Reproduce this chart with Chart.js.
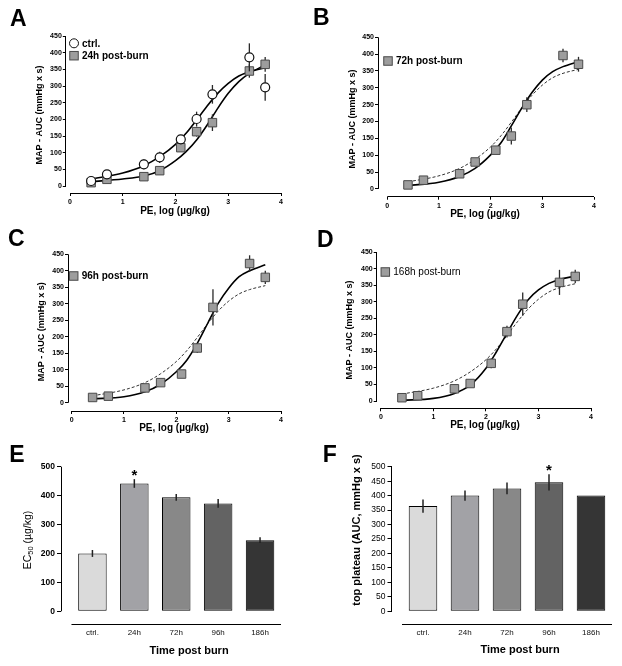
<!DOCTYPE html>
<html>
<head>
<meta charset="utf-8">
<script src="https://cdn.jsdelivr.net/npm/chart.js@4.4.1/dist/chart.umd.min.js"></script>
<style>
html, body { margin: 0; padding: 0; background: #fff; }
#fig { position: relative; width: 622px; height: 666px; overflow: hidden; }
#fig canvas { position: absolute; }
</style>
</head>
<body>
<div id="fig">
  <canvas id="cA" width="310" height="220" style="left:0;top:0"></canvas>
  <canvas id="cB" width="312" height="220" style="left:310px;top:0"></canvas>
  <canvas id="cC" width="310" height="220" style="left:0;top:220px"></canvas>
  <canvas id="cD" width="312" height="220" style="left:310px;top:220px"></canvas>
  <canvas id="cE" width="310" height="226" style="left:0;top:440px"></canvas>
  <canvas id="cF" width="312" height="226" style="left:310px;top:440px"></canvas>
</div>
<script>
// dose-response points (log dose, AUC)
const doseX = [0.4, 0.7, 1.4, 1.7, 2.1, 2.4, 2.7, 3.4, 3.7];
const ctrlY = [15, 35, 65, 86, 140, 201, 275, 386, 296];
const ctrlErr = [4, 8, 15, 17, 12, 22, 28, 42, 40];
const h24Y = [10, 20, 28, 46, 115, 163, 190, 345, 365];
const h24Err = [3, 4, 4, 5, 12, 15, 25, 20, 22];
const h72Y = [12, 26, 45, 80, 115, 157, 250, 396, 370];
const h72Err = [3, 5, 5, 6, 10, 25, 22, 20, 22];
const h96Y = [16, 20, 45, 61, 87, 166, 289, 422, 380];
const h96Err = [3, 4, 5, 5, 6, 15, 55, 25, 20];
const h168Y = [10, 16, 37, 53, 114, 210, 293, 359, 377];
const h168Err = [3, 4, 5, 6, 15, 18, 35, 38, 20];

// fitted curves
const fitX = [0.4, 1.0, 1.4, 1.7, 2.0, 2.2, 2.4, 2.6, 2.8, 3.0, 3.2, 3.4, 3.7];
const ctrlFit = [21, 39, 61, 88, 125, 158, 198, 240, 278, 308, 330, 343, 355];
const h24Fit = [13, 21, 30, 46, 76, 103, 138, 183, 233, 278, 313, 338, 363];
const h72Fit = [10, 20, 37, 61, 101, 137, 187, 239, 286, 323, 348, 363, 378];
const h96Fit = [12, 18, 33, 56, 94, 129, 180, 241, 301, 347, 382, 400, 418];
const h168Fit = [2, 8, 23, 48, 99, 149, 205, 260, 306, 336, 356, 368, 378];

const doseTicks = [0, 1, 2, 3, 4];
const aucTicks = [0, 50, 100, 150, 200, 250, 300, 350, 400, 450];

// bar panels
const timeCats = ['ctrl.', '24h', '72h', '96h', '186h'];
const ec50 = [200, 442, 394, 373, 246];
const ec50Err = [12, 15, 12, 15, 10];
const ec50Sig = [false, true, false, false, false];
const ec50Ticks = [0, 100, 200, 300, 400, 500];
const plateau = [364, 400, 425, 446, 400];
const plateauErr = [23, 18, 20, 28, 0];
const plateauSig = [false, false, false, true, false];
const plateauTicks = [0, 50, 100, 150, 200, 250, 300, 350, 400, 450, 500];
const barColors = ['#dadada', '#a2a2a6', '#888888', '#636363', '#353535'];

const FONT = "'Liberation Sans', Arial, sans-serif";
Chart.defaults.font.family = FONT;
Chart.defaults.color = '#000';

const pts = (xs, ys) => xs.map((x, i) => ({ x: x, y: ys[i] }));
const SQ_FILL = '#9d9d9d', SQ_EDGE = '#4a4a4a';

function drawErr(chart, idx, color, width) {
  const ctx = chart.ctx, ds = chart.data.datasets[idx], ys = chart.scales.y;
  ctx.save();
  ctx.strokeStyle = color;
  ctx.lineWidth = width;
  chart.getDatasetMeta(idx).data.forEach((el, i) => {
    const v = ds.data[i].y, e = ds.err[i];
    if (!e) return;
    ctx.beginPath();
    ctx.moveTo(el.x, ys.getPixelForValue(v - e));
    ctx.lineTo(el.x, ys.getPixelForValue(v + e));
    ctx.stroke();
  });
  ctx.restore();
}

function drawTitle(ctx, t, rotate) {
  ctx.save();
  ctx.translate(t.at[0], t.at[1]);
  if (rotate) ctx.rotate(-Math.PI / 2);
  ctx.textBaseline = 'middle';
  const parts = t.parts || [{ text: t.text, size: t.size }];
  let total = 0;
  parts.forEach(pt => {
    ctx.font = t.weight + ' ' + pt.size + 'px ' + FONT;
    pt.w = ctx.measureText(pt.text).width;
    total += pt.w;
  });
  let x = -total / 2;
  ctx.textAlign = 'left';
  parts.forEach(pt => {
    ctx.font = t.weight + ' ' + pt.size + 'px ' + FONT;
    ctx.fillText(pt.text, x, pt.dy || 0);
    x += pt.w;
  });
  ctx.restore();
}

function figPlugin(p) {
  return {
    id: 'fig',
    beforeDatasetDraw(chart, args) {
      const ds = chart.data.datasets[args.index];
      if (ds.err && !p.bars) drawErr(chart, args.index, '#2a2a2a', 1.3);
    },
    afterDatasetsDraw(chart) {
      if (!p.bars) return;
      const ctx = chart.ctx, ds = chart.data.datasets[0], ys = chart.scales.y;
      drawErr(chart, 0, '#222', 1.5);
      ctx.save();
      ctx.fillStyle = '#000';
      ctx.font = 'bold 15px ' + FONT;
      ctx.textAlign = 'center';
      ctx.textBaseline = 'alphabetic';
      chart.getDatasetMeta(0).data.forEach((el, i) => {
        if (!p.sig[i]) return;
        ctx.fillText('*', el.x, ys.getPixelForValue(ds.data[i].y + ds.err[i]) + 1);
      });
      ctx.restore();
    },
    afterDraw(chart) {
      const ctx = chart.ctx, a = chart.chartArea, xs = chart.scales.x, ys = chart.scales.y;
      const al = v => Math.round(v - 0.5) + 0.5;
      ctx.save();
      ctx.strokeStyle = '#000';
      ctx.lineWidth = 1;
      ctx.beginPath();
      ctx.moveTo(xs.getPixelForValue(p.xLine[0]), al(a.bottom));
      ctx.lineTo(xs.getPixelForValue(p.xLine[1]), al(a.bottom));
      ctx.moveTo(al(a.left), ys.getPixelForValue(p.yLine[0]));
      ctx.lineTo(al(a.left), ys.getPixelForValue(p.yLine[1]));
      ctx.stroke();

      ctx.fillStyle = '#000';
      ctx.textAlign = 'left';
      ctx.textBaseline = 'alphabetic';
      ctx.font = 'bold 23px ' + FONT;
      ctx.fillText(p.letter, p.letterAt[0], p.letterAt[1]);

      drawTitle(ctx, p.xTitle, false);
      drawTitle(ctx, p.yTitle, true);

      (p.legend || []).forEach(item => {
        const [x, y] = item.at;
        ctx.lineWidth = 1;
        if (item.shape === 'circle') {
          ctx.beginPath();
          ctx.arc(x, y, 4.5, 0, Math.PI * 2);
          ctx.fillStyle = '#fff';
          ctx.fill();
          ctx.strokeStyle = '#111';
          ctx.stroke();
        } else {
          ctx.fillStyle = SQ_FILL;
          ctx.fillRect(x - 4.25, y - 4.25, 8.5, 8.5);
          ctx.strokeStyle = SQ_EDGE;
          ctx.strokeRect(x - 4.25, y - 4.25, 8.5, 8.5);
        }
        ctx.fillStyle = '#000';
        ctx.font = p.legendFont;
        ctx.textBaseline = 'middle';
        ctx.fillText(item.label, x + 8, y + 0.5);
      });
      ctx.restore();
    }
  };
}

function markers(ys, err, circle) {
  return {
    type: 'scatter',
    data: pts(doseX, ys),
    err: err,
    pointStyle: circle ? 'circle' : 'rect',
    pointRadius: circle ? 4.5 : 6,
    pointBackgroundColor: circle ? '#fff' : SQ_FILL,
    pointBorderColor: circle ? '#111' : SQ_EDGE,
    pointBorderWidth: circle ? 1.2 : 1
  };
}

function curve(ys, dashed) {
  return {
    type: 'line',
    data: pts(fitX, ys),
    borderColor: dashed ? '#333' : '#000',
    borderWidth: dashed ? 1 : 1.6,
    borderDash: dashed ? [3, 2] : [],
    pointRadius: 0,
    fill: false,
    cubicInterpolationMode: 'monotone'
  };
}

function baseOptions(p, W, H) {
  const a = p.area;
  return {
    responsive: false,
    animation: false,
    devicePixelRatio: 1,
    layout: { padding: { left: 0, top: a.t, right: W - a.r, bottom: 0 } },
    plugins: { legend: { display: false }, tooltip: { enabled: false } },
    scales: {}
  };
}

function doseChart(id, W, H, p) {
  const a = p.area;
  const opts = baseOptions(p, W, H);
  const tickFont = { size: 7, weight: 'bold' };
  opts.scales = {
    x: {
      type: 'linear', min: p.xMin, max: 4, offset: false,
      afterBuildTicks: s => { s.ticks = doseTicks.map(v => ({ value: v })); },
      afterFit: s => { s.height = H - a.b; },
      grid: { drawOnChartArea: false, tickLength: 3, color: '#000' },
      border: { display: false },
      ticks: { font: tickFont, color: '#000', padding: 2, maxRotation: 0, autoSkip: false }
    },
    y: {
      type: 'linear', min: p.yMin, max: 450,
      afterBuildTicks: s => { s.ticks = aucTicks.map(v => ({ value: v })); },
      afterFit: s => { s.width = a.l; },
      grid: { drawOnChartArea: false, tickLength: 3, color: '#000' },
      border: { display: false },
      ticks: { font: tickFont, color: '#000', padding: 1, autoSkip: false }
    }
  };
  p.xLine = [0, 4];
  p.yLine = [0, 450];
  return new Chart(document.getElementById(id), {
    type: 'scatter',
    data: { datasets: p.datasets },
    options: opts,
    plugins: [figPlugin(p)]
  });
}

function timeChart(id, W, H, p) {
  const a = p.area;
  const opts = baseOptions(p, W, H);
  opts.scales = {
    x: {
      type: 'linear', min: -0.75, max: 4.5, offset: false,
      afterBuildTicks: s => { s.ticks = timeCats.map((c, i) => ({ value: i })); },
      afterFit: s => { s.height = H - a.b; },
      grid: { display: false, drawTicks: false, offset: false },
      border: { display: false },
      ticks: { callback: v => timeCats[v], font: { size: 8 }, color: '#111', padding: 4, maxRotation: 0, autoSkip: false }
    },
    y: {
      type: 'linear', min: -45, max: 500,
      afterBuildTicks: s => { s.ticks = p.ticks.map(v => ({ value: v })); },
      afterFit: s => { s.width = a.l; },
      grid: { drawOnChartArea: false, tickLength: 4, color: '#000' },
      border: { display: false },
      ticks: { font: p.tickFont, color: '#000', padding: 2, autoSkip: false }
    }
  };
  p.bars = true;
  p.xLine = [-0.5, timeCats.length - 0.5];
  p.yLine = [0, 500];
  return new Chart(document.getElementById(id), {
    type: 'bar',
    data: {
      datasets: [{
        data: pts(timeCats.map((c, i) => i), p.values),
        err: p.err,
        backgroundColor: barColors,
        borderColor: '#000',
        borderWidth: 1,
        borderSkipped: false,
        categoryPercentage: 1,
        barPercentage: 0.68
      }]
    },
    options: opts,
    plugins: [figPlugin(p)]
  });
}

const aucTitle = { text: 'MAP - AUC (mmHg x s)', weight: 'bold', size: 9 };
const doseTitle = { text: 'PE, log (\u00b5g/kg)', weight: 'bold', size: 10 };

doseChart('cA', 310, 220, {
  letter: 'A', letterAt: [10, 26],
  area: { l: 65.8, t: 36, r: 281, b: 193 }, xMin: -0.08, yMin: -21,
  xTitle: Object.assign({ at: [175, 211.5] }, doseTitle),
  yTitle: Object.assign({ at: [40, 115] }, aucTitle),
  legendFont: 'bold 10px ' + FONT,
  legend: [
    { shape: 'circle', label: 'ctrl.', at: [74, 43.3] },
    { shape: 'rect', label: '24h post-burn', at: [74, 55.7] }
  ],
  datasets: [markers(ctrlY, ctrlErr, true), markers(h24Y, h24Err, false), curve(ctrlFit, false), curve(h24Fit, false)]
});

doseChart('cB', 312, 220, {
  letter: 'B', letterAt: [3, 25],
  area: { l: 68, t: 37.3, r: 284, b: 196.7 }, xMin: -0.18, yMin: -23,
  xTitle: Object.assign({ at: [175, 214.3] }, doseTitle),
  yTitle: Object.assign({ at: [42.3, 119] }, aucTitle),
  legendFont: 'bold 10px ' + FONT,
  legend: [{ shape: 'rect', label: '72h post-burn', at: [78, 61] }],
  datasets: [markers(h72Y, h72Err, false), curve(h72Fit, false), curve(ctrlFit, true)]
});

doseChart('cC', 310, 220, {
  letter: 'C', letterAt: [8, 26],
  area: { l: 68, t: 34.3, r: 281, b: 191 }, xMin: -0.07, yMin: -25,
  xTitle: Object.assign({ at: [174, 208.3] }, doseTitle),
  yTitle: Object.assign({ at: [41.7, 111.7] }, aucTitle),
  legendFont: 'bold 10px ' + FONT,
  legend: [{ shape: 'rect', label: '96h post-burn', at: [73.7, 56] }],
  datasets: [markers(h96Y, h96Err, false), curve(h96Fit, false), curve(ctrlFit, true)]
});

doseChart('cD', 312, 220, {
  letter: 'D', letterAt: [7, 26.7],
  area: { l: 66.7, t: 32.3, r: 281, b: 188.3 }, xMin: -0.08, yMin: -22,
  xTitle: Object.assign({ at: [175, 205.7] }, doseTitle),
  yTitle: Object.assign({ at: [40, 110] }, aucTitle),
  legendFont: '10px ' + FONT,
  legend: [{ shape: 'rect', label: '168h post-burn', at: [75.3, 52] }],
  datasets: [markers(h168Y, h168Err, false), curve(h168Fit, false), curve(ctrlFit, true)]
});

timeChart('cE', 310, 226, {
  letter: 'E', letterAt: [9.3, 21.7],
  area: { l: 61, t: 26.7, r: 281, b: 184.3 },
  values: ec50, err: ec50Err, sig: ec50Sig, ticks: ec50Ticks,
  tickFont: { size: 8.5, weight: 'bold' },
  xTitle: { text: 'Time post burn', weight: 'bold', size: 11, at: [189, 210.7] },
  yTitle: {
    weight: 'normal', at: [28.3, 100],
    parts: [{ text: 'EC', size: 10.5 }, { text: '50', size: 7.5, dy: 2.5 }, { text: ' (\u00b5g/kg)', size: 10.5 }]
  }
});

timeChart('cF', 312, 226, {
  letter: 'F', letterAt: [12.7, 21.7],
  area: { l: 81.5, t: 26.7, r: 302, b: 184.3 },
  values: plateau, err: plateauErr, sig: plateauSig, ticks: plateauTicks,
  tickFont: { size: 8.5 },
  xTitle: { text: 'Time post burn', weight: 'bold', size: 11, at: [210, 210] },
  yTitle: { text: 'top plateau (AUC, mmHg x s)', weight: 'bold', size: 11, at: [46.7, 90] }
});
</script>
</body>
</html>
